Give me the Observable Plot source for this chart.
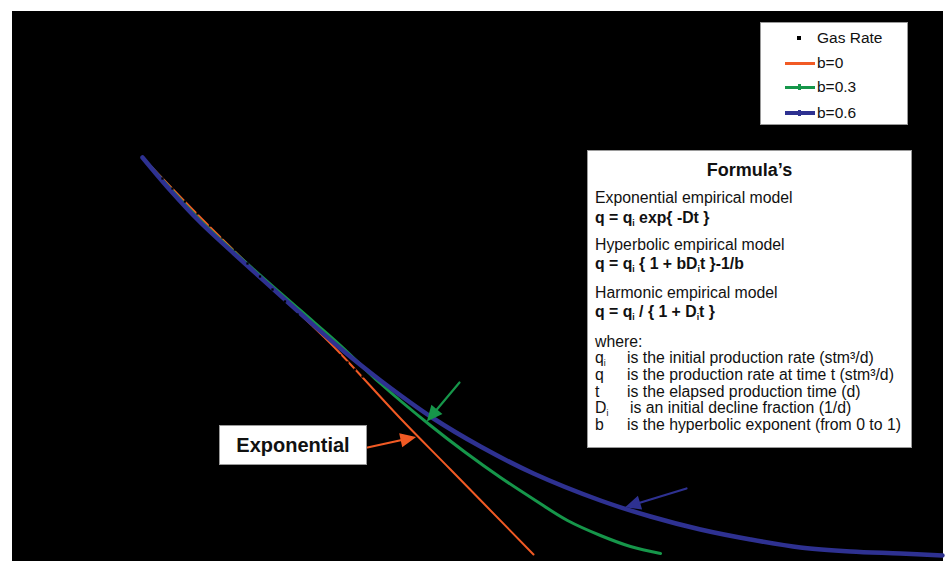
<!DOCTYPE html>
<html><head><meta charset="utf-8">
<script src="https://cdn.jsdelivr.net/npm/d3@7"></script>
<script src="https://cdn.jsdelivr.net/npm/@observablehq/plot@0.6"></script>
<style>
body{margin:0;background:#fff;font-family:"Liberation Sans",Arial,sans-serif;}
#wrap{position:relative;width:945px;height:561px;overflow:hidden}
.box{position:absolute;background:#fff;border:1px solid #9a9a9a;box-sizing:border-box}
.ln{position:absolute;white-space:nowrap;font-size:15.8px;line-height:16px;color:#111}
.b{font-weight:bold}
sub{font-size:0.55em;vertical-align:-0.3em;line-height:0}
</style></head><body><div id="wrap"></div>
<script>
// time (days) and rate (stm3/d)
const tOrange = [260, 376, 482, 576, 646, 776, 876, 1042];
const qOrange = [2020, 1720, 1460, 1235, 1065, 715, 460, 35];

const tGreen = [260, 376, 476, 576, 656, 736, 836, 906, 976, 1046, 1110, 1176, 1236, 1296];
const qGreen = [2020, 1705, 1475, 1255, 1080, 890, 680, 545, 420, 305, 205, 130, 75, 40];

const tBlue = [260, 316, 376, 476, 576, 656, 736, 842, 936, 1042, 1176, 1276, 1376, 1476, 1576, 1676, 1776, 1860];
const qBlue = [2020, 1855, 1695, 1465, 1240, 1065, 905, 715, 575, 440, 305, 225, 160, 110, 70, 50, 40, 30];

const tGas = [300, 320, 345, 370, 395, 420, 445, 470, 495, 520, 545, 570, 595, 620, 640, 655, 670, 685, 700];
const qGas = [1915, 1865, 1800, 1740, 1680, 1620, 1560, 1490, 1425, 1360, 1300, 1235, 1170, 1110, 1060, 1030, 995, 960, 925];

const seriesNames = ["Gas Rate", "b=0", "b=0.3", "b=0.6"];
const seriesColors = ["#000000", "#f15a24", "#16964a", "#2e3191"];

// annotation arrows (data units)
const arrowX1 = [710, 894, 1348];
const arrowY1 = [570, 895, 365];
const arrowX2 = [802, 832, 1230];
const arrowY2 = [620, 710, 275];
const arrowColors = ["#f15a24", "#16964a", "#2e3191"];

const xDomain = [0, 1860], yDomain = [0, 2750];
const W = 945, H = 561, mL = 12, mT = 11, mR = 3, mB = 0;

const toRows = (ts, qs) => ts.map((t, i) => ({t, q: qs[i]}));
const orange = toRows(tOrange, qOrange);
const green = toRows(tGreen, qGreen);
const blue = toRows(tBlue, qBlue);
const gas = toRows(tGas, qGas);

// scales used to orient arrow heads in screen space
const sx = Plot.scale({x: {domain: xDomain, range: [mL, W - mR]}});
const sy = Plot.scale({y: {domain: yDomain, range: [H - mB, mT]}});
const arrowShape = {
  draw(ctx, l) {
    const h = 12, w = 5.5;
    ctx.moveTo(0, 0); ctx.lineTo(0, -l + h);
    ctx.moveTo(0, -l); ctx.lineTo(w, -l + h); ctx.lineTo(-w, -l + h); ctx.closePath();
  }
};
const arrowMarks = arrowX1.map((x1, i) => {
  const dx = sx.apply(arrowX2[i]) - sx.apply(x1);
  const dy = sy.apply(arrowY2[i]) - sy.apply(arrowY1[i]);
  const len = Math.hypot(dx, dy);
  const rot = Math.atan2(dx, -dy) * 180 / Math.PI;
  return Plot.vector([{x: x1, y: arrowY1[i]}], {
    x: "x", y: "y", length: len, rotate: rot, anchor: "start", shape: arrowShape,
    stroke: arrowColors[i], fill: arrowColors[i], strokeWidth: 2.2, strokeLinejoin: "miter"
  });
});

const chart = Plot.plot({
  width: W, height: H,
  marginLeft: mL, marginTop: mT, marginRight: mR, marginBottom: mB,
  x: {domain: xDomain, axis: null},
  y: {domain: yDomain, axis: null},
  style: {background: "white", overflow: "visible"},
  marks: [
    Plot.frame({fill: "black", stroke: "black"}),
    Plot.line(orange, {x: "t", y: "q", stroke: seriesColors[1], strokeWidth: 2, curve: "catmull-rom"}),
    Plot.line(green, {x: "t", y: "q", stroke: seriesColors[2], strokeWidth: 3, curve: "catmull-rom"}),
    Plot.line(blue, {x: "t", y: "q", stroke: seriesColors[3], strokeWidth: 4.5, curve: "catmull-rom"}),
    Plot.dot(gas, {x: "t", y: "q", fill: "black", symbol: "square", r: 1.3}),
    ...arrowMarks
  ]
});
const wrap = document.getElementById("wrap");
wrap.appendChild(chart);

// legend
const leg = document.createElement("div");
leg.className = "box";
Object.assign(leg.style, {left: "760px", top: "22px", width: "148px", height: "103px"});
const legY = [15, 40, 64, 90];
seriesNames.forEach((name, i) => {
  if (i === 0) {
    const m = document.createElement("div");
    Object.assign(m.style, {position: "absolute", left: "36px", top: (legY[i] - 2) + "px", width: "4px", height: "4px", background: "#000"});
    leg.appendChild(m);
  } else {
    const l = document.createElement("div");
    const th = [0, 3, 3, 3.5][i];
    Object.assign(l.style, {position: "absolute", left: "24px", top: (legY[i] - th / 2) + "px", width: "30px", height: th + "px", background: seriesColors[i]});
    leg.appendChild(l);
    if (i > 1) {
      const k = document.createElement("div");
      Object.assign(k.style, {position: "absolute", left: "37px", top: (legY[i] - 3) + "px", width: "3px", height: "6px", background: seriesColors[i]});
      leg.appendChild(k);
    }
  }
  const tx = document.createElement("div");
  tx.className = "ln";
  tx.style.fontSize = "15.5px";
  tx.style.left = "56px";
  tx.style.top = (legY[i] - 8) + "px";
  tx.textContent = name;
  leg.appendChild(tx);
});
wrap.appendChild(leg);

// formula box
const fb = document.createElement("div");
fb.className = "box";
Object.assign(fb.style, {left: "587px", top: "150px", width: "325px", height: "298px"});
const fLines = [
  {y: 20, html: "Formula’s", cls: "b", center: true, size: 18},
  {y: 48, html: "Exponential empirical model"},
  {y: 68, html: "q = q<sub>i</sub> exp{ -Dt }", cls: "b"},
  {y: 95, html: "Hyperbolic empirical model"},
  {y: 114, html: "q = q<sub>i</sub> { 1 + bD<sub>i</sub>t }-1/b", cls: "b"},
  {y: 143, html: "Harmonic empirical model"},
  {y: 162, html: "q = q<sub>i</sub> / { 1 + D<sub>i</sub>t }", cls: "b"},
  {y: 192, html: "where:"}
];
fLines.forEach(d => {
  const e = document.createElement("div");
  e.className = "ln" + (d.cls ? " " + d.cls : "");
  e.innerHTML = d.html;
  if (d.size) e.style.fontSize = d.size + "px";
  e.style.top = (d.y - 9) + "px";
  if (d.center) { e.style.left = "0"; e.style.width = "100%"; e.style.textAlign = "center"; }
  else e.style.left = "7px";
  fb.appendChild(e);
});
const defs = [
  {y: 208, sym: "q<sub>i</sub>", txt: "is the initial production rate (stm³/d)", x: 39},
  {y: 225, sym: "q", txt: "is the production rate at time t (stm³/d)", x: 39},
  {y: 242, sym: "t", txt: "is the elapsed production time (d)", x: 39},
  {y: 258, sym: "D<sub>i</sub>", txt: "is an initial decline fraction (1/d)", x: 42},
  {y: 275, sym: "b", txt: "is the hyperbolic exponent (from 0 to 1)", x: 39}
];
defs.forEach(d => {
  const s = document.createElement("div");
  s.className = "ln"; s.innerHTML = d.sym; s.style.left = "7px"; s.style.top = (d.y - 9) + "px";
  fb.appendChild(s);
  const t = document.createElement("div");
  t.className = "ln"; t.textContent = d.txt; t.style.left = d.x + "px"; t.style.top = (d.y - 9) + "px";
  fb.appendChild(t);
});
wrap.appendChild(fb);

// Exponential label box
const eb = document.createElement("div");
eb.className = "box";
Object.assign(eb.style, {left: "219px", top: "425px", width: "148px", height: "40px", fontWeight: "bold", fontSize: "20px", lineHeight: "38px", textAlign: "center", color: "#111"});
eb.textContent = "Exponential";
wrap.appendChild(eb);
</script>
</body></html>
